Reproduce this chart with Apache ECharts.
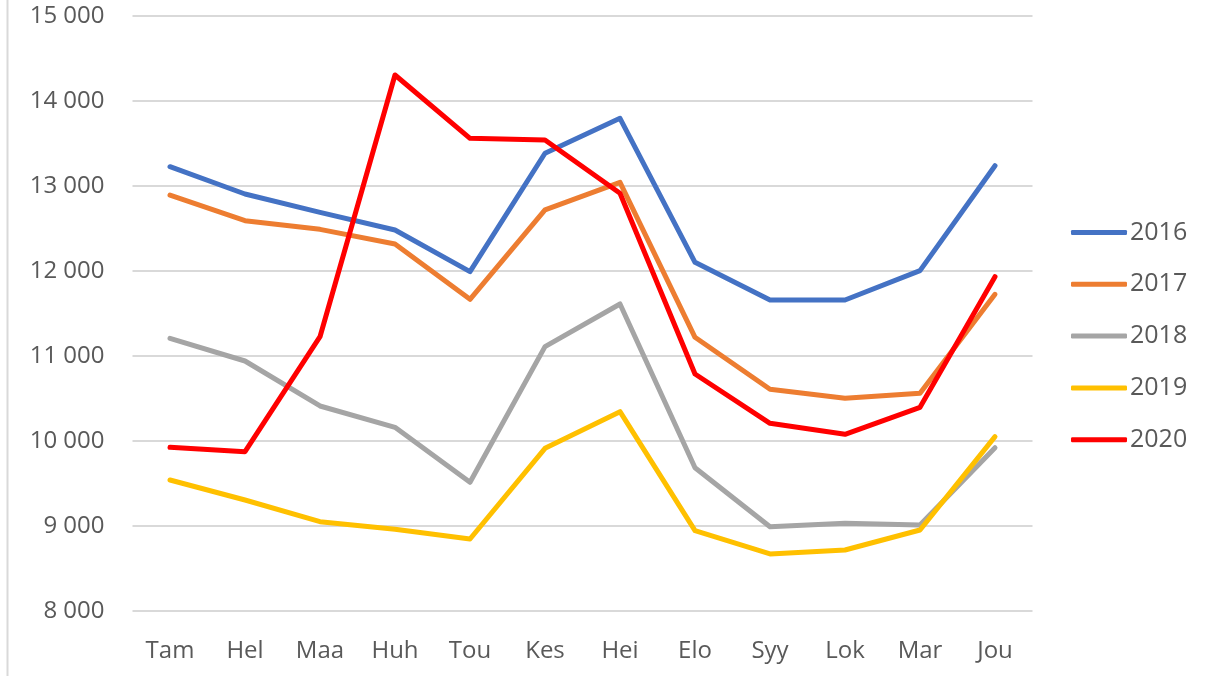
<!DOCTYPE html>
<html><head><meta charset="utf-8">
<script src="https://cdn.jsdelivr.net/npm/echarts@6/dist/echarts.min.js"></script>
<style>html,body{margin:0;padding:0;background:#fff}#c{width:1213px;height:676px}</style>
</head><body><div id="c"></div>
<script>
const categories = ['Tam','Hel','Maa','Huh','Tou','Kes','Hei','Elo','Syy','Lok','Mar','Jou'];
const seriesNames = ['2016','2017','2018','2019','2020'];
const v2016 = [13227,12906,12690,12482,11992,13385,13796,12102,11659,11659,12004,13239];
const v2017 = [12894,12592,12490,12318,11667,12718,13043,11220,10608,10502,10561,11726];
const v2018 = [11208,10941,10412,10161,9514,11110,11612,9686,8992,9031,9012,9921];
const v2019 = [9541,9306,9051,8961,8847,9914,10345,8945,8671,8718,8953,10051];
const v2020 = [9926,9874,11227,14306,13561,13541,12914,10788,10208,10079,10396,11933];
const yTicks = [8000,9000,10000,11000,12000,13000,14000,15000];
const colors = ['#4472C4','#ED7D31','#A5A5A5','#FFC000','#FF0000'];
const allValues = [v2016,v2017,v2018,v2019,v2020];

const font = 'Open Sans';
const chart = echarts.init(document.getElementById('c'));
chart.setOption({
  animation:false,
  color: colors,
  textStyle:{fontFamily:font},
  graphic:[{type:'line',shape:{x1:7.5,y1:0,x2:7.5,y2:676},style:{stroke:'#d9d9d9',lineWidth:2}}],
  grid:{left:132.5,right:180.5,top:16,bottom:65,containLabel:false},
  legend:{
    orient:'vertical', left:1071, top:220, padding:0,
    itemWidth:56, itemHeight:5, itemGap:26.8,
    textStyle:{fontFamily:font,fontSize:25,lineHeight:25,color:'#595959',padding:[0,0,0,-2]},
    data: seriesNames.map((n,i)=>({name:n, icon:'roundRect', itemStyle:{color:colors[i]}}))
  },
  xAxis:{type:'category',data:categories,boundaryGap:true,
    axisLine:{show:false},axisTick:{show:false},
    axisLabel:{fontFamily:font,fontSize:24,color:'#595959',margin:28}},
  yAxis:{type:'value',min:yTicks[0],max:yTicks[yTicks.length-1],interval:1000,
    axisLine:{show:false},axisTick:{show:false},
    splitLine:{lineStyle:{color:'#d9d9d9',width:2}},
    axisLabel:{fontFamily:font,fontSize:24,color:'#595959',margin:28,
      formatter:v=>String(v).replace(/\B(?=(\d{3})+(?!\d))/g,' ')}},
  series: seriesNames.map((n,i)=>({
    name:n,type:'line',data:allValues[i],symbol:'none',
    lineStyle:{width:5,color:colors[i],cap:'round',join:'round'},
    itemStyle:{color:colors[i]}
  }))
});
</script></body></html>
